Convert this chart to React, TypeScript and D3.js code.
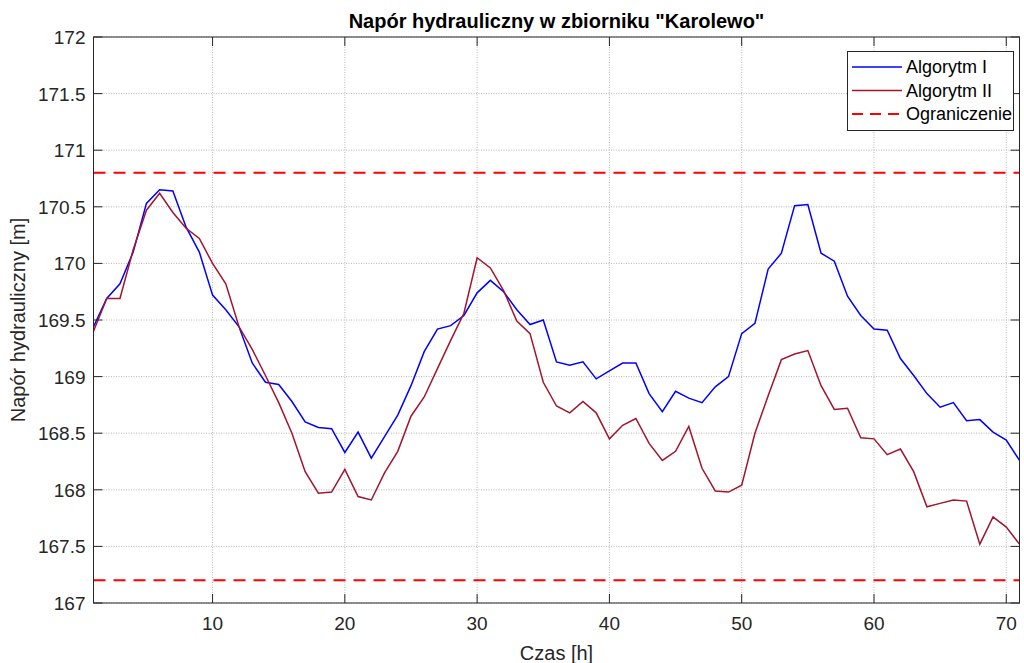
import * as d3 from "d3";

// head [m] per hour, hours 1..71
const algorytm1 = [
  169.44, 169.69, 169.82, 170.1, 170.53, 170.65, 170.64, 170.32, 170.1, 169.72,
  169.59, 169.44, 169.12, 168.95, 168.93, 168.78, 168.6, 168.55, 168.54, 168.33,
  168.51, 168.28, 168.47, 168.66, 168.92, 169.22, 169.42, 169.45, 169.54, 169.74,
  169.85, 169.75, 169.59, 169.46, 169.5, 169.13, 169.1, 169.13, 168.98, 169.05,
  169.12, 169.12, 168.85, 168.69, 168.87, 168.81, 168.77, 168.91, 169.0, 169.38,
  169.47, 169.95, 170.09, 170.51, 170.52, 170.09, 170.02, 169.71, 169.54, 169.42,
  169.41, 169.16, 169.01, 168.85, 168.73, 168.77, 168.61, 168.62, 168.51, 168.44,
  168.26,
];
const algorytm2 = [
  169.4, 169.69, 169.69, 170.12, 170.47, 170.62, 170.45, 170.31, 170.22, 170.0,
  169.82, 169.44, 169.24, 169.01, 168.77, 168.5, 168.16, 167.97, 167.98, 168.18,
  167.94, 167.91, 168.15, 168.34, 168.65, 168.82, 169.07, 169.32, 169.56, 170.05,
  169.96, 169.76, 169.49, 169.38, 168.95, 168.74, 168.68, 168.78, 168.68, 168.45,
  168.57, 168.63, 168.41, 168.26, 168.34, 168.56, 168.19, 167.99, 167.98, 168.04,
  168.5, 168.83, 169.15, 169.2, 169.23, 168.92, 168.71, 168.72, 168.46, 168.45,
  168.31, 168.36, 168.16, 167.85, 167.88, 167.91, 167.9, 167.52, 167.76, 167.67,
  167.52,
];
const limits = [170.8, 167.2];
const xTicks = [10, 20, 30, 40, 50, 60, 70];
const yTicks = [167, 167.5, 168, 168.5, 169, 169.5, 170, 170.5, 171, 171.5, 172];
const legendLabels = ["Algorytm I", "Algorytm II", "Ograniczenie"];

const width = 1024;
const height = 663;
const margin = { top: 37, right: 4.5, bottom: 60, left: 93.5 };
const font = "Arial, 'Liberation Sans', Helvetica, sans-serif";

export default function App() {
  const x = d3.scaleLinear([1, 71], [margin.left, width - margin.right]);
  const y = d3.scaleLinear([167, 172], [height - margin.bottom, margin.top]);

  const line = d3
    .line<number>()
    .x((d, i) => x(i + 1))
    .y((d) => y(d));

  const x0 = margin.left;
  const x1 = width - margin.right;
  const y0 = height - margin.bottom;
  const y1 = margin.top;

  const legend = [
    { label: legendLabels[0], color: "#0000ff", dash: undefined, w: 1.5 },
    { label: legendLabels[1], color: "#a2142f", dash: undefined, w: 1.5 },
    { label: legendLabels[2], color: "#ff0000", dash: "11,7", w: 2 },
  ];

  return (
    <svg
      width={width}
      height={height}
      style={{ position: "absolute", left: 0, top: 0, background: "#fff" }}
      fontFamily={font}
    >
      <rect x={x0} y={y1} width={x1 - x0} height={y0 - y1} fill="#fff" />

      {/* grid */}
      <g stroke="#b8b8b8" strokeWidth={1} strokeDasharray="1,1.5">
        {xTicks.map((t) => (
          <line key={"gx" + t} x1={x(t)} x2={x(t)} y1={y1} y2={y0} />
        ))}
        {yTicks.map((t) => (
          <line key={"gy" + t} x1={x0} x2={x1} y1={y(t)} y2={y(t)} />
        ))}
      </g>

      {/* limits */}
      {limits.map((v) => (
        <line
          key={"lim" + v}
          x1={x0}
          x2={x1}
          y1={y(v)}
          y2={y(v)}
          stroke="#ff0000"
          strokeWidth={2}
          strokeDasharray="12,8"
        />
      ))}

      <path d={line(algorytm1) ?? ""} fill="none" stroke="#0000ff" strokeWidth={1.5} />
      <path d={line(algorytm2) ?? ""} fill="none" stroke="#a2142f" strokeWidth={1.5} />

      {/* box + inward ticks */}
      <rect x={x0} y={y1} width={x1 - x0} height={y0 - y1} fill="none" stroke="#262626" strokeWidth={1} />
      <g stroke="#262626" strokeWidth={1}>
        {xTicks.map((t) => (
          <g key={"tx" + t}>
            <line x1={x(t)} x2={x(t)} y1={y0} y2={y0 - 9} />
            <line x1={x(t)} x2={x(t)} y1={y1} y2={y1 + 9} />
          </g>
        ))}
        {yTicks.map((t) => (
          <g key={"ty" + t}>
            <line x1={x0} x2={x0 + 9} y1={y(t)} y2={y(t)} />
            <line x1={x1} x2={x1 - 9} y1={y(t)} y2={y(t)} />
          </g>
        ))}
      </g>

      <g fontSize={19} fill="#262626">
        {xTicks.map((t) => (
          <text key={"lx" + t} x={x(t)} y={y0 + 27} textAnchor="middle">
            {t}
          </text>
        ))}
        {yTicks.map((t) => (
          <text key={"ly" + t} x={x0 - 8} y={y(t) + 7} textAnchor="end">
            {String(t)}
          </text>
        ))}
      </g>

      <text x={(x0 + x1) / 2} y={660} textAnchor="middle" fontSize={20} fill="#262626">
        Czas [h]
      </text>
      <text
        transform={`translate(25,${(y0 + y1) / 2}) rotate(-90)`}
        textAnchor="middle"
        fontSize={20}
        fill="#262626"
      >
        Napór hydrauliczny [m]
      </text>
      <text x={(x0 + x1) / 2} y={28} textAnchor="middle" fontSize={20} fontWeight="bold" fill="#000">
        Napór hydrauliczny w zbiorniku "Karolewo"
      </text>

      {/* legend */}
      <g>
        <rect x={847.5} y={51.5} width={166} height={79} fill="#fff" stroke="#262626" strokeWidth={1} />
        {legend.map((l, i) => (
          <g key={l.label}>
            <line
              x1={852}
              x2={902}
              y1={67 + i * 23.5}
              y2={67 + i * 23.5}
              stroke={l.color}
              strokeWidth={l.w}
              strokeDasharray={l.dash}
            />
            <text x={906} y={73 + i * 23.5} fontSize={18} fill="#000">
              {l.label}
            </text>
          </g>
        ))}
      </g>
    </svg>
  );
}
